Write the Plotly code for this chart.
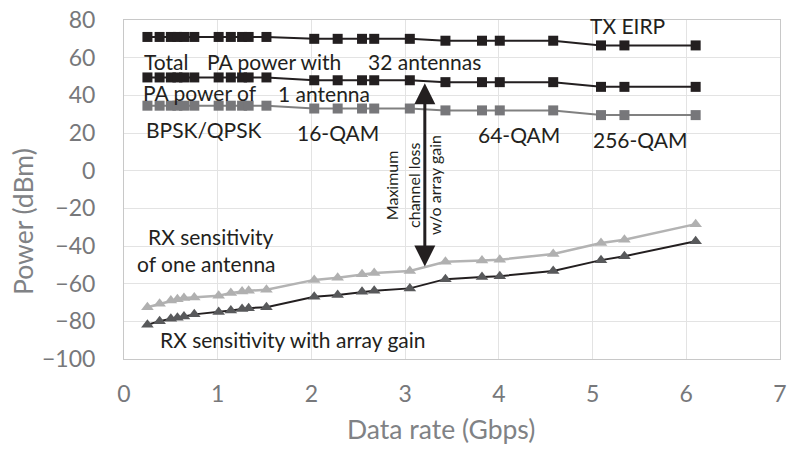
import plotly.graph_objects as go

# Data rate (Gbps), shared by all series
data_rate = [0.25, 0.38, 0.50, 0.57, 0.64, 0.75, 1.01, 1.14, 1.26, 1.33, 1.52,
             2.03, 2.28, 2.54, 2.67, 3.05,
             3.43, 3.82, 4.01, 4.58,
             5.09, 5.34, 6.10]

tx_eirp = [71]*11 + [70]*5 + [69]*4 + [66.5]*3
pa_total_32 = [49.5]*11 + [48]*5 + [47]*4 + [44.5]*3
pa_one = [34.5]*11 + [33]*5 + [32]*4 + [29.5]*3

rx_one = [-72.5, -70.7, -69.0, -68.3, -67.6, -67.3, -66.4, -65.0, -64.1, -63.8, -63.2,
          -58.0, -56.8, -55.0, -54.3, -53.3,
          -48.4, -47.7, -47.3, -44.2,
          -38.4, -36.7, -28.4]
rx_array = [-81.8, -79.9, -78.6, -78.1, -77.4, -76.3, -75.1, -74.2, -73.4, -73.0, -72.5,
            -66.9, -66.0, -64.3, -63.8, -62.5,
            -57.6, -56.4, -56.0, -53.3,
            -47.5, -45.4, -37.5]

x_ticks = [0, 1, 2, 3, 4, 5, 6, 7]
y_ticks = [80, 60, 40, 20, 0, -20, -40, -60, -80, -100]

BLACK = "#231f20"
GRAYTXT = "#77787b"
fig = go.Figure()

def sq(y, line_c, mark_c):
    fig.add_trace(go.Scatter(x=data_rate, y=y, mode="lines+markers",
                             line=dict(color=line_c, width=2),
                             marker=dict(symbol="square", size=10, color=mark_c),
                             showlegend=False))

sq(tx_eirp, BLACK, BLACK)
sq(pa_total_32, BLACK, BLACK)
sq(pa_one, "#808080", "#77777a")

fig.add_trace(go.Scatter(x=data_rate, y=rx_one, mode="lines+markers",
                         line=dict(color="#b3b3b3", width=2.5),
                         marker=dict(symbol="triangle-up", size=11, color="#b0b0b0"),
                         showlegend=False))
fig.add_trace(go.Scatter(x=data_rate, y=rx_array, mode="lines+markers",
                         line=dict(color=BLACK, width=2),
                         marker=dict(symbol="triangle-up", size=11, color="#58595b"),
                         showlegend=False))

F = "Lato"
labels = [
    ("TX EIRP", 5.375, 76.9, "center"),
    ("Total", 0.443, 58.0, "center"),
    ("PA power with", 1.605, 58.0, "center"),
    ("32 antennas", 3.205, 58.0, "center"),
    ("PA power of", 0.808, 41.7, "center"),
    ("1 antenna", 2.133, 41.2, "center"),
    ("BPSK/QPSK", 0.85, 21.8, "center"),
    ("16-QAM", 2.28, 20.2, "center"),
    ("64-QAM", 4.22, 19.1, "center"),
    ("256-QAM", 5.51, 16.5, "center"),
    ("RX sensitivity", 0.924, -34.9, "center"),
    ("of one antenna", 0.116, -49.1, "left"),
    ("RX sensitivity with array gain", 1.80, -89.5, "center"),
]
for t, x, y, xa in labels:
    fig.add_annotation(x=x, y=y, text=t, showarrow=False, xanchor=xa, yanchor="middle",
                       font=dict(family=F, size=21, color=BLACK))

# double-headed arrow
fig.add_annotation(x=3.21, y=46.4, ax=3.21, ay=-51.7, xref="x", yref="y",
                   axref="x", ayref="y", showarrow=True, arrowhead=2, startarrowhead=2,
                   arrowside="end+start", arrowwidth=3, arrowsize=1.4, startarrowsize=1.4,
                   arrowcolor=BLACK, text="")
for t, x in [("Maximum", 2.862), ("channel loss", 3.094), ("w/o array gain", 3.319)]:
    fig.add_annotation(x=x, y=-7.6, text=t, showarrow=False, textangle=-90,
                       xanchor="center", yanchor="middle",
                       font=dict(family=F, size=16, color=BLACK))

# axis titles
fig.add_annotation(xref="paper", yref="paper", x=0.483, y=-0.207, text="Data rate (Gbps)",
                   showarrow=False, xanchor="center", yanchor="middle",
                   font=dict(family=F, size=26.5, color="#808285"))
fig.add_annotation(xref="paper", yref="paper", x=-0.155, y=0.405, text="Power (dBm)",
                   showarrow=False, textangle=-90, xanchor="center", yanchor="middle",
                   font=dict(family=F, size=26.5, color="#808285"))

fig.update_layout(
    width=792, height=450,
    margin=dict(l=124, r=5, t=16, b=91),
    paper_bgcolor="white", plot_bgcolor="white",
    font=dict(family=F),
    xaxis=dict(range=[0, 7], tickvals=x_ticks, ticks="", showgrid=True,
               gridcolor="#e3e3e3", gridwidth=1, zeroline=False,
               showline=True, linecolor="#c8c8c8", linewidth=1, mirror=True,
               tickfont=dict(family=F, size=23, color=GRAYTXT),
               ticklabelstandoff=14, ticklabeloverflow="allow"),
    yaxis=dict(range=[-100, 80], tickvals=y_ticks, ticks="", showgrid=True,
               gridcolor="#e3e3e3", gridwidth=1, zeroline=False,
               showline=True, linecolor="#c8c8c8", linewidth=1, mirror=True,
               tickfont=dict(family=F, size=23, color=GRAYTXT),
               ticklabelstandoff=23, ticklabeloverflow="allow"),
)
fig.write_html("out.html")
